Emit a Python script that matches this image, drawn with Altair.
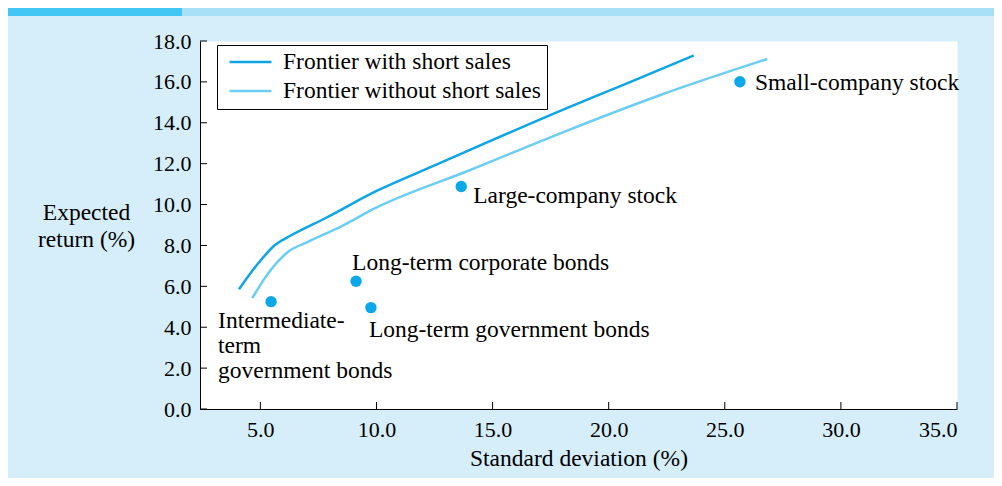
import altair as alt
import pandas as pd

# ---- data ----
series_names = ["Frontier with short sales", "Frontier without short sales"]
with_sd = [4.08, 4.91, 5.63, 6.35, 7.79, 9.94, 12.58, 18.35, 20.79, 23.66]
with_ret = [5.86, 7.13, 8.02, 8.51, 9.33, 10.63, 11.95, 14.79, 15.93, 17.29]
without_sd = [4.65, 5.34, 6.21, 7.07, 8.51, 9.94, 14.04, 18.35, 22.23, 26.83]
without_ret = [5.42, 6.64, 7.70, 8.19, 8.95, 9.82, 11.69, 13.68, 15.36, 17.12]

assets = ["Small-company stock", "Large-company stock", "Long-term corporate bonds",
          "Long-term government bonds", "Intermediate-term government bonds"]
asset_sd = [25.65, 13.65, 9.12, 9.76, 5.46]
asset_ret = [16.01, 10.88, 6.25, 4.96, 5.25]

x_ticks = [5, 10, 15, 20, 25, 30, 35]
y_ticks = [0, 2, 4, 6, 8, 10, 12, 14, 16, 18]

# ---- styling ----
FONT = "Liberation Serif"
C_WITH = "#0ea5e4"
C_WITHOUT = "#6ccdf3"
C_DOT = "#0aa8e8"
BG = "#d5eef9"
TXT = 23.5

W, H = 757, 368

lines_df = pd.DataFrame({
    "sd": with_sd + without_sd,
    "ret": with_ret + without_ret,
    "series": [series_names[0]] * len(with_sd) + [series_names[1]] * len(without_sd),
})
pts_df = pd.DataFrame({"sd": asset_sd, "ret": asset_ret, "asset": assets})

xs = alt.Scale(domain=[2.4, 35], nice=False, zero=False)
ys = alt.Scale(domain=[0, 18], nice=False, zero=False)

x_axis = alt.Axis(values=x_ticks, format=".1f", ticks=False, grid=False,
                  labelFont=FONT, labelFontSize=22, labelColor="black", labelPadding=10,
                  domainColor="black", domainWidth=1,
                  title="Standard deviation (%)", titleFont=FONT, titleFontSize=TXT,
                  titleFontWeight="normal", titleColor="black", titleY=56,
                  titleBaseline="alphabetic")
y_axis = alt.Axis(values=y_ticks, format=".1f", ticks=False, grid=False,
                  labelFont=FONT, labelFontSize=22, labelColor="black", labelPadding=9,
                  domainColor="black", domainWidth=1,
                  title=["Expected", "return (%)"], titleFont=FONT, titleFontSize=TXT,
                  titleFontWeight="normal", titleColor="black", titleAngle=0,
                  titleAlign="center", titleX=-114, titleY=178,
                  titleBaseline="alphabetic", titleLineHeight=27)

X = lambda: alt.X("sd:Q", scale=xs, axis=x_axis)
Y = lambda: alt.Y("ret:Q", scale=ys, axis=y_axis)

one = pd.DataFrame({"k": [0]})
bar_dark = alt.Chart(one).mark_rect(color="#42c7f4", clip=False).encode(
    x=alt.value(-192), x2=alt.value(-18), y=alt.value(-33), y2=alt.value(-25))
bar_light = alt.Chart(one).mark_rect(color="#a8e0f7", clip=False).encode(
    x=alt.value(-18), x2=alt.value(W + 37), y=alt.value(-33), y2=alt.value(-25))

lines = alt.Chart(lines_df).mark_line(strokeWidth=2.5, interpolate="monotone").encode(
    x=X(), y=Y(),
    color=alt.Color("series:N",
                    scale=alt.Scale(domain=series_names, range=[C_WITH, C_WITHOUT]),
                    legend=alt.Legend(title=None, orient="none", legendX=17, legendY=4,
                                      fillColor="white", strokeColor="black",
                                      padding=6, symbolOffset=5,
                                      symbolType="stroke", symbolSize=1764,
                                      symbolStrokeWidth=2.5, labelOffset=10,
                                      labelFont=FONT, labelFontSize=TXT, labelLimit=0,
                                      labelColor="black", clipHeight=22, rowPadding=5)),
    order="sd:Q",
)

ytick_rules = alt.Chart(pd.DataFrame({"ret": y_ticks})).mark_rule(color="black").encode(
    y=Y(), x=alt.value(0), x2=alt.value(7))
xtick_rules = alt.Chart(pd.DataFrame({"sd": x_ticks})).mark_rule(color="black").encode(
    x=X(), y=alt.value(H), y2=alt.value(H - 7))

dots = alt.Chart(pts_df).mark_circle(size=130, color=C_DOT, opacity=1).encode(x=X(), y=Y())

label_offsets = {
    "Small-company stock": (15, 8),
    "Large-company stock": (12, 16),
    "Long-term corporate bonds": (-4, -11),
    "Long-term government bonds": (-2, 29),
}
label_layers = []
for name, (dx, dy) in label_offsets.items():
    label_layers.append(
        alt.Chart(pts_df).transform_filter(alt.datum.asset == name)
        .mark_text(font=FONT, fontSize=TXT, color="black", align="left",
                   baseline="alphabetic", dx=dx, dy=dy)
        .encode(x=X(), y=Y(), text="asset:N"))
label_layers.append(
    alt.Chart(pts_df).transform_filter(alt.datum.asset == assets[4])
    .transform_calculate(lbl="'Intermediate-\\nterm\\ngovernment bonds'")
    .mark_text(font=FONT, fontSize=TXT, color="black", align="left",
               baseline="alphabetic", dx=-53, dy=26, lineBreak="\n", lineHeight=25)
    .encode(x=X(), y=Y(), text="lbl:N"))

chart = alt.layer(bar_dark, bar_light, lines, ytick_rules, xtick_rules, dots, *label_layers).properties(
    width=W, height=H,
    background=BG,
    padding={"left": 192, "top": 33, "right": 37, "bottom": 69},
    autosize=alt.AutoSizeParams(type="none"),
).configure_view(fill="white", stroke="transparent")

chart.save("out.html", embed_options={"renderer": "svg", "actions": False})
